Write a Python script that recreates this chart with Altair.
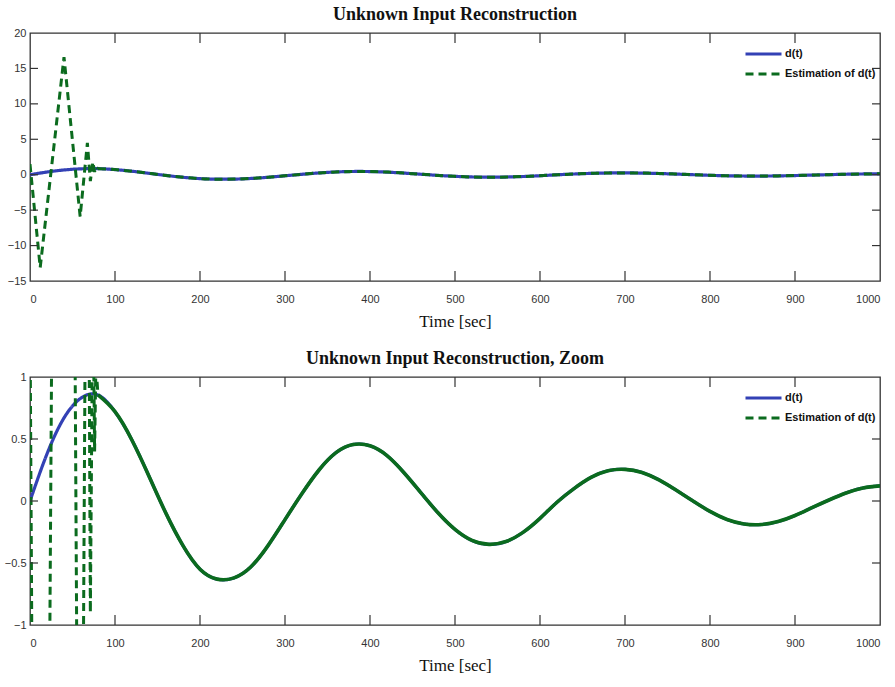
import altair as alt
import pandas as pd

# ---------------- data ----------------
series_names = ["d(t)", "Estimation of d(t)"]

# true unknown input d(t), sampled every 20 s
t_d = [0, 20, 40, 60, 80, 100, 120, 140, 160, 180,
       200, 220, 240, 260, 280, 300, 320, 340, 360, 380,
       400, 420, 440, 460, 480, 500, 520, 540, 560, 580,
       600, 620, 640, 660, 680, 700, 720, 740, 760, 780,
       800, 820, 840, 860, 880, 900, 920, 940, 960, 980, 1000]
d_vals = [0.000, 0.380, 0.670, 0.830, 0.855, 0.720, 0.490, 0.200, -0.100, -0.360,
          -0.550, -0.630, -0.620, -0.530, -0.360, -0.150, 0.060, 0.250, 0.390, 0.455,
          0.445, 0.366, 0.228, 0.066, -0.095, -0.229, -0.318, -0.350, -0.327, -0.253,
          -0.140, -0.010, 0.100, 0.190, 0.244, 0.255, 0.230, 0.170, 0.088, 0.000,
          -0.084, -0.149, -0.185, -0.190, -0.166, -0.117, -0.054, 0.008, 0.065, 0.105, 0.122]

# estimation: transient part (first ~80 s)
t_est_transient = [0, 12, 40, 59, 67.5, 71, 74, 76, 77.5, 80]
est_transient = [1.5, -13.1, 16.6, -5.9, 4.5, -0.9, 1.8, 0.4, 1.1, 0.855]
# estimation: tracking part (coincides with d(t) from 80 s)
t_est_track = t_d[4:]
est_track = d_vals[4:]

x_label_vals = [0, 100, 200, 300, 400, 500, 600, 700, 800, 900, 1000]
x_inner_ticks = [100, 200, 300, 400, 500, 600, 700, 800, 900]
y_top_labels = [-15, -10, -5, 0, 5, 10, 15, 20]
y_top_inner = [-10, -5, 0, 5, 10, 15]
y_bot_labels = [-1, -0.5, 0, 0.5, 1]
y_bot_inner = [-0.5, 0, 0.5]

# ---------------- styling ----------------
BLUE = "#3341b5"
GREEN = "#0b6b1e"
FRAME = "#333333"
SANS = "Liberation Sans, Arial, sans-serif"
W, H = 850, 248
TLX, TLY = 10, 8

df_d = pd.DataFrame({"t": t_d, "v": d_vals, "s": series_names[0]})
df_et = pd.DataFrame({"t": t_est_transient, "v": est_transient, "s": series_names[1]})
df_ek = pd.DataFrame({"t": t_est_track, "v": est_track, "s": series_names[1]})
df_xt = pd.DataFrame({"t": x_inner_ticks})


def panel(title, ydom, ylabels, yinner, solid_tail, yfmt):
    xs = alt.Scale(domain=[0, 1000], nice=False, zero=False)
    ys = alt.Scale(domain=ydom, nice=False, zero=False)
    xenc = alt.X("t:Q", scale=xs,
                 axis=alt.Axis(values=x_label_vals, format="d", title="Time [sec]"))
    yenc = alt.Y("v:Q", scale=ys,
                 axis=alt.Axis(values=ylabels, format=yfmt, title=None))
    leg = alt.Legend(title=None, orient="none", legendX=714, legendY=14,
                     symbolType="stroke", symbolSize=1296, symbolStrokeWidth=3,
                     clipHeight=14,
                     labelFont=SANS, labelFontSize=11, labelFontWeight="bold",
                     labelColor="#111", labelOffset=2, rowPadding=6)
    col = alt.Color("s:N", scale=alt.Scale(domain=series_names, range=[BLUE, GREEN]),
                    legend=leg)
    dash = alt.StrokeDash("s:N", scale=alt.Scale(domain=series_names,
                                                  range=[[1, 0], [8, 5]]),
                          legend=leg)

    d_line = alt.Chart(df_d).mark_line(strokeWidth=3.2, clip=True,
                                       interpolate="natural").encode(
        x=xenc, y=yenc, color=col, strokeDash=dash)
    est_tr = alt.Chart(df_et).mark_line(strokeWidth=3, clip=True).encode(
        x=xenc, y=yenc, color=col, strokeDash=dash)
    if solid_tail:
        est_tk = alt.Chart(df_ek).mark_line(strokeWidth=3.6, clip=True,
                                            interpolate="natural").encode(
            x=xenc, y=yenc, color=col)
    else:
        est_tk = alt.Chart(df_ek).mark_line(strokeWidth=3, clip=True,
                                            interpolate="natural").encode(
            x=xenc, y=yenc, color=col, strokeDash=dash)

    df_yt = pd.DataFrame({"v": yinner})
    xt_top = alt.Chart(df_xt).mark_rule(color=FRAME, strokeWidth=1.2).encode(
        x=xenc, y=alt.value(0), y2=alt.value(TLX))
    xt_bot = alt.Chart(df_xt).mark_rule(color=FRAME, strokeWidth=1.2).encode(
        x=xenc, y=alt.value(H - TLX), y2=alt.value(H))
    yt_l = alt.Chart(df_yt).mark_rule(color=FRAME, strokeWidth=1.2).encode(
        y=yenc, x=alt.value(0), x2=alt.value(TLY))
    yt_r = alt.Chart(df_yt).mark_rule(color=FRAME, strokeWidth=1.2).encode(
        y=yenc, x=alt.value(W - TLY), x2=alt.value(W))

    return alt.layer(d_line, est_tr, est_tk, xt_top, xt_bot, yt_l, yt_r).properties(
        width=W, height=H, title=alt.TitleParams(title))


top = panel("Unknown Input Reconstruction", [-15, 20], y_top_labels, y_top_inner,
            False, "d")
bot = panel("Unknown Input Reconstruction, Zoom", [-1, 1], y_bot_labels, y_bot_inner,
            True, "~r")

chart = alt.vconcat(top, bot, spacing=19).resolve_scale(
    color="independent", strokeDash="independent"
).properties(
    padding={"left": 3, "top": 5, "right": 2, "bottom": 2},
    background="white",
).configure_view(
    stroke=FRAME, strokeWidth=1.3
).configure_axis(
    domain=False, ticks=False, grid=False,
    labelFont=SANS, labelFontSize=11, labelColor="#333",
    titleFont="Liberation Serif", titleFontSize=17, titleFontWeight="normal",
    titleColor="#111"
).configure_axisX(
    labelPadding=12, titlePadding=9
).configure_axisY(
    labelPadding=4
).configure_title(
    font="Liberation Serif", fontSize=18, fontWeight="bold", color="#111",
    offset=3, anchor="middle"
)

chart.save("out.html", embed_options={"renderer": "svg", "actions": False})
